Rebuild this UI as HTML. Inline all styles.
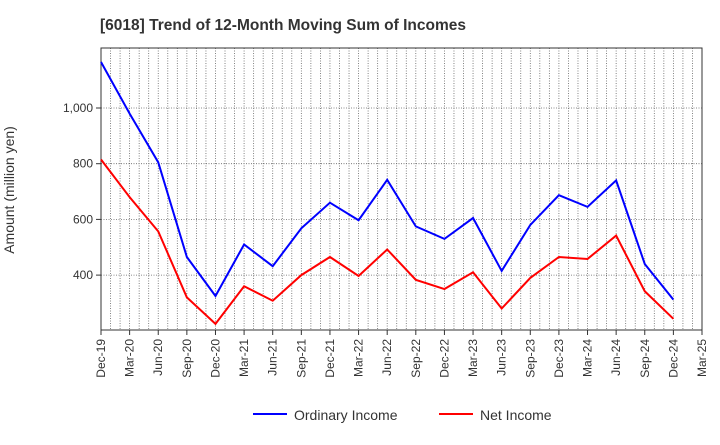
<!DOCTYPE html>
<html><head><meta charset="utf-8"><style>
body{margin:0;background:#fff;font-family:"Liberation Sans",sans-serif;}
</style></head><body>
<svg id="c" width="720" height="440" xmlns="http://www.w3.org/2000/svg">
<text x="100" y="30" font-size="15.5" font-weight="bold" fill="#333">[6018]  Trend of 12-Month Moving Sum of Incomes</text>
<text transform="translate(14,190) rotate(-90)" text-anchor="middle" font-size="14" fill="#333">Amount (million yen)</text>
<g id="grid"></g><g id="axes"></g><g id="series"></g>
<g>
<line x1="253" y1="414" x2="287" y2="414" stroke="#0000ff" stroke-width="2"/>
<text x="294" y="420" font-size="14" fill="#333">Ordinary Income</text>
<line x1="439" y1="414" x2="473" y2="414" stroke="#ff0000" stroke-width="2"/>
<text x="480" y="420" font-size="14" fill="#333">Net Income</text>
</g>
</svg>
<script>
const categories=["Dec-19","Mar-20","Jun-20","Sep-20","Dec-20","Mar-21","Jun-21","Sep-21","Dec-21","Mar-22","Jun-22","Sep-22","Dec-22","Mar-23","Jun-23","Sep-23","Dec-23","Mar-24","Jun-24","Sep-24","Dec-24","Mar-25"];
const ordinaryIncome=[1165,980,805,465,325,510,432,568,660,597,742,575,530,605,415,580,687,645,740,440,312];
const netIncome=[815,680,557,320,225,360,308,400,465,397,492,383,350,410,280,390,465,458,542,342,243];
const yTicks=[400,600,800,1000];
const yTickLabels=["400","600","800","1,000"];
const L=101,R=702,T=48,B=330;
const ns="http://www.w3.org/2000/svg";
const xS=i=>L+(R-L)*i/(categories.length-1);
const yS=v=>108-(v-1000)*55.7/200;
function mk(p,t,a){const e=document.createElementNS(ns,t);for(const k in a)e.setAttribute(k,a[k]);p.appendChild(e);return e;}
const g=document.getElementById('grid'),ax=document.getElementById('axes'),s=document.getElementById('series');
const months=(categories.length-1)*3;
for(let m=1;m<months;m++){const x=L+(R-L)*m/months;
const l=mk(g,'line',{x1:x,x2:x,y1:T,y2:B,stroke:'#666','stroke-width':0.8,'stroke-dasharray':'1,1.5'});
}
yTicks.forEach((v,i)=>{const y=yS(v);
const l=mk(g,'line',{x1:L,x2:R,y1:y,y2:y,stroke:'#666','stroke-width':0.8,'stroke-dasharray':'1,1.5'});

mk(ax,'line',{x1:L-5,x2:L,y1:y,y2:y,stroke:'#333'});
const t=mk(ax,'text',{x:L-8,y:y+4,'text-anchor':'end','font-size':12,fill:'#333'});t.textContent=yTickLabels[i];
});
const fr=mk(ax,'rect',{x:L,y:T,width:R-L,height:B-T,fill:'none',stroke:'#333','stroke-width':1});

categories.forEach((c,i)=>{const x=xS(i);
mk(ax,'line',{x1:x,x2:x,y1:B,y2:B+5,stroke:'#333'});
const t=mk(ax,'text',{transform:`translate(${x+4},${B+9}) rotate(-90)`,'text-anchor':'end','font-size':12,fill:'#333'});t.textContent=c;
});
function line(d,col,name){const p=mk(s,'polyline',{points:d.map((v,i)=>xS(i)+','+yS(v)).join(' '),fill:'none',stroke:col,'stroke-width':2});
}
line(ordinaryIncome,'#0000ff','ordinary-income-line');
line(netIncome,'#ff0000','net-income-line');
</script>
</body></html>
